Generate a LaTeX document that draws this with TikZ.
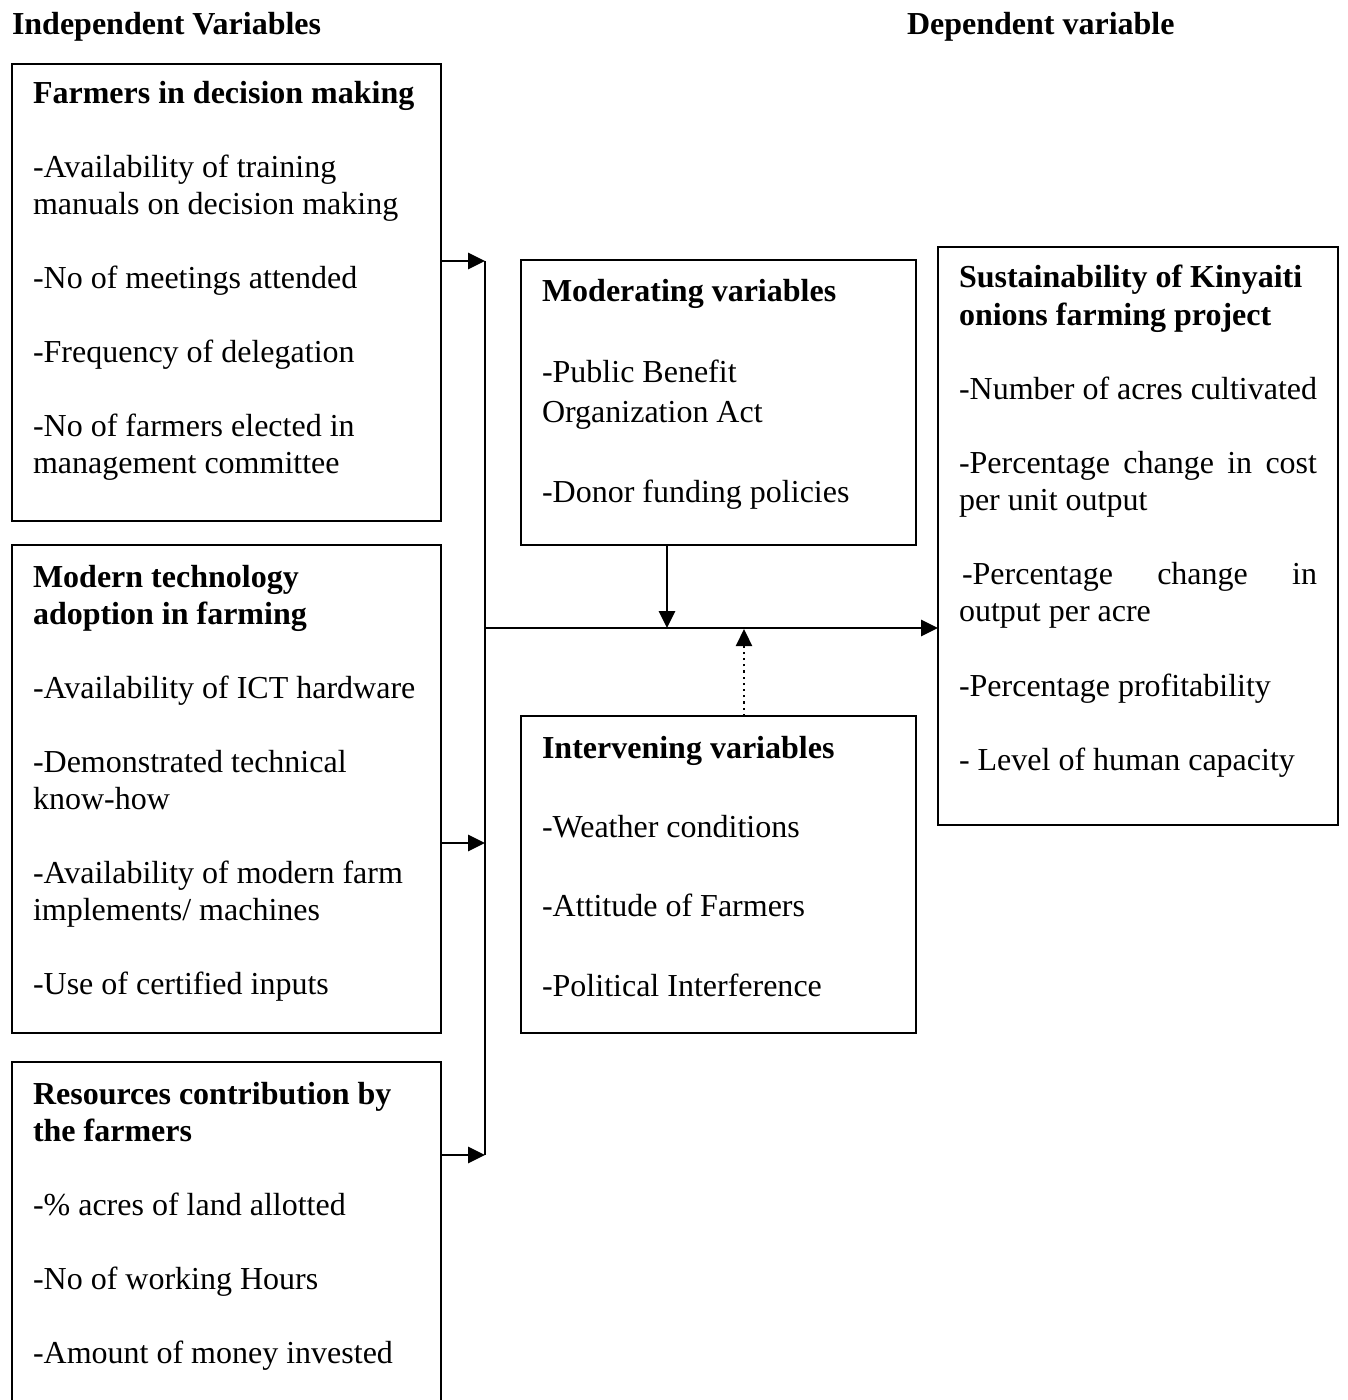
\documentclass[tikz,border=0pt]{standalone}
\usepackage{fontspec}
\setmainfont{Liberation Serif}
\usetikzlibrary{arrows.meta}
\begin{document}
\begin{tikzpicture}[x=0.5pt,y=-0.5pt,
  box/.style={draw,line width=1pt,inner sep=0pt,outer sep=0pt,anchor=north west},
  txt/.style={anchor=base west,inner sep=0pt,outer sep=0pt,text width=205pt,align=flush left,font=\fontsize{16pt}{18.5pt}\selectfont},
  dtxt/.style={txt,font=\fontsize{16pt}{18.55pt}\selectfont},
  mtxt/.style={txt,font=\fontsize{16pt}{20.1pt}\selectfont},
  itxt/.style={txt,font=\fontsize{16pt}{19.85pt}\selectfont},
  head/.style={anchor=base west,inner sep=0pt,outer sep=0pt,font=\bfseries\fontsize{16pt}{18.4pt}\selectfont},
  conn/.style={line width=1.4pt,-{Triangle[length=8.5pt,width=8pt]}},
  dconn/.style={line width=1.1pt,dotted,-{Triangle[length=8.5pt,width=8pt]}},
  plain/.style={line width=1.4pt}]
\useasboundingbox (0,0) rectangle (1347,1400);

% headers
\node[head] (hI) at (12,35) {Independent Variables};
\node[head] (hD) at (907,35) {Dependent variable};

% boxes
\node[box,minimum width=214.5pt,minimum height=228.5pt] (b1) at (12,64) {};
\node[box,minimum width=214.5pt,minimum height=244pt] (b2) at (12,545) {};
\node[box,minimum width=214.5pt,minimum height=185pt] (b3) at (12,1062) {};
\node[box,minimum width=197.5pt,minimum height=142.5pt] (bm) at (521,260) {};
\node[box,minimum width=197.5pt,minimum height=158.5pt] (bi) at (521,716) {};
\node[box,minimum width=200pt,minimum height=289pt] (bd) at (938,247) {};

% texts
\node[txt] (t1) at (33,104) {\textbf{Farmers in decision making}\\[\baselineskip]
-Availability of training\\
manuals on decision making\\[\baselineskip]
-No of meetings attended\\[\baselineskip]
-Frequency of delegation\\[\baselineskip]
-No of farmers elected in\\
management committee};

\node[txt] (t2) at (33,587) {\textbf{Modern technology}\\
\textbf{adoption in farming}\\[\baselineskip]
-Availability of ICT hardware\\[\baselineskip]
-Demonstrated technical\\
know-how\\[\baselineskip]
-Availability of modern farm\\
implements/ machines\\[\baselineskip]
-Use of certified inputs};

\node[txt] (t3) at (33,1104) {\textbf{Resources contribution by}\\
\textbf{the farmers}\\[\baselineskip]
-\% acres of land allotted\\[\baselineskip]
-No of working Hours\\[\baselineskip]
-Amount of money invested};

\node[mtxt] (tm) at (542,302) {\textbf{Moderating variables}\\[\baselineskip]
-Public Benefit\\
Organization Act\\[\baselineskip]
-Donor funding policies};

\node[itxt] (ti) at (542,758) {\textbf{Intervening variables}\\[\baselineskip]
-Weather conditions\\[\baselineskip]
-Attitude of Farmers\\[\baselineskip]
-Political Interference};

\node[dtxt] (td) at (959,288) {\textbf{Sustainability of Kinyaiti}\\
\textbf{onions farming project}\\[\baselineskip]
-Number of acres cultivated\\[\baselineskip]
\leavevmode\hbox to 179pt{-Percentage\hfill change\hfill in\hfill cost}\\
per unit output\\[\baselineskip]
\leavevmode\hspace*{1.5pt}\hbox to 177.5pt{-Percentage\hfill change\hfill in}\\
output per acre\\[\baselineskip]
-Percentage profitability\\[\baselineskip]
- Level of human capacity};

% connectors
\coordinate (j1) at (485,261);
\coordinate (j2) at (485,843);
\coordinate (j3) at (485,1155);
\coordinate (jm) at (485,628);
\coordinate (mt) at (667,628);
\coordinate (it) at (744,629);

\draw[plain] (j1) -- (j3);
\draw[conn] (b1.east |- j1) -- (j1);
\draw[conn] (b2.east |- j2) -- (j2);
\draw[conn] (b3.east |- j3) -- (j3);
\draw[conn] (jm) -- (bd.west |- jm);
\draw[conn] (bm.south -| mt) -- (mt);
\draw[dconn] (bi.north -| it) -- (it);
\end{tikzpicture}
\end{document}
